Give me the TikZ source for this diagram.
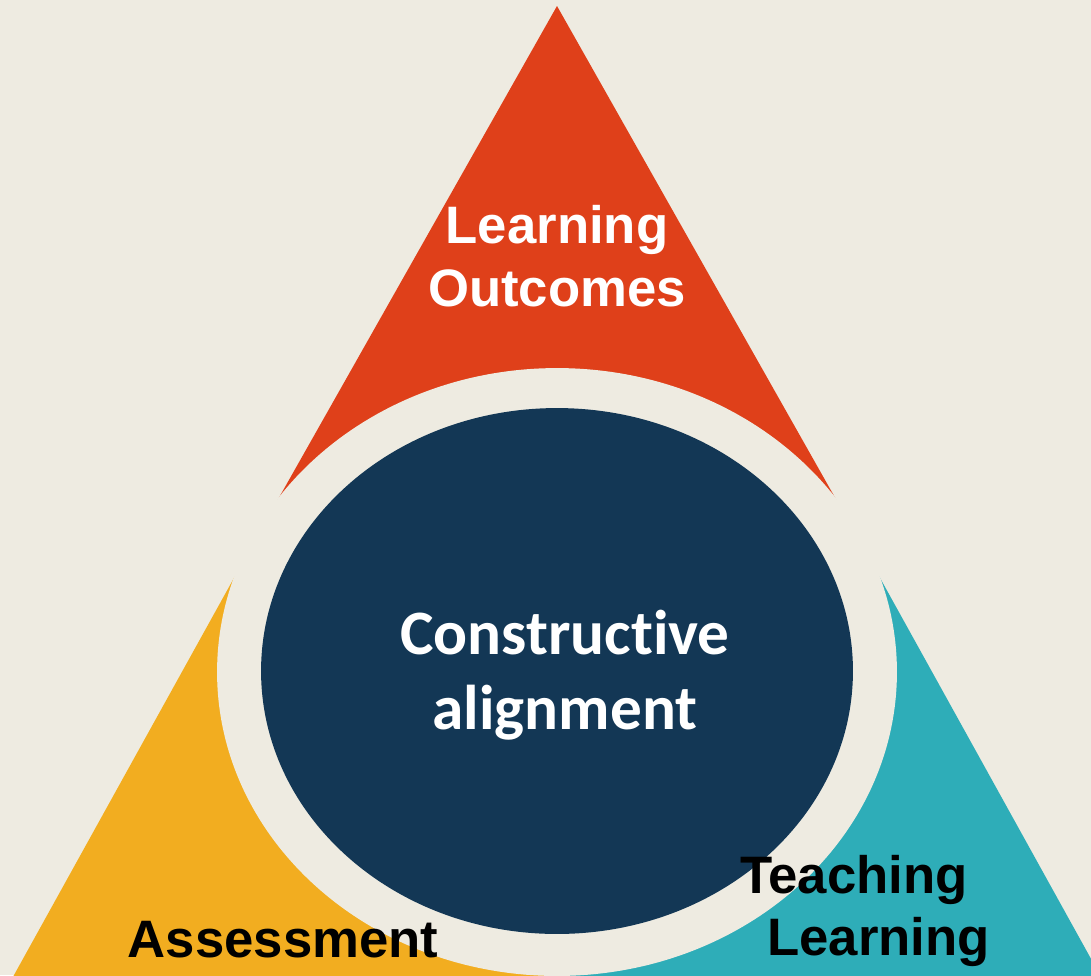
\documentclass[tikz,border=0pt]{standalone}
\usepackage{fontspec}
\newfontfamily\headfont{Liberation Sans}
\newfontfamily\corefont{Carlito}[Ligatures=NoCommon]
\usetikzlibrary{shapes.geometric}

\definecolor{paper}{HTML}{EEEBE1}
\definecolor{outcomered}{HTML}{DF401A}
\definecolor{assessyellow}{HTML}{F2AD20}
\definecolor{teachteal}{HTML}{2EADB8}
\definecolor{corenavy}{HTML}{133755}

\begin{document}
\begin{tikzpicture}[x=0.02cm, y=-0.02cm]

    \fill[paper] (0,0) rectangle (1091,975);
    \useasboundingbox (0,0) rectangle (1091,975);

    \begin{scope}
    \clip (0,0) rectangle (1091,975);

    \coordinate (apex) at (557,6);
    \coordinate (cutl) at (255,540);
    \coordinate (cutr) at (859,540);
    \coordinate (mid) at (557,540);
    \coordinate (basel) at (-58,1105);
    \coordinate (baser) at (1172,1105);
    \coordinate (basem) at (557,1105);

    \fill[outcomered] (apex) -- (cutr) -- (cutl) -- cycle;
    \fill[assessyellow] (cutl) -- (mid) -- (basem) -- (basel) -- cycle;
    \fill[teachteal] (mid) -- (cutr) -- (baser) -- (basem) -- cycle;

    \node[ellipse,
    fill = paper,
    inner sep = 0pt,
    minimum width = 13.6cm,
    minimum height = 12.16cm] (gap) at (557,672) {};

    \node[ellipse,
    fill = corenavy,
    inner sep = 0pt,
    minimum width = 11.84cm,
    minimum height = 10.52cm] (core) at (557,671) {};
    \end{scope}

    \node[align=center, text=white, inner sep=0pt,
    font=\headfont\bfseries\fontsize{30}{36}\selectfont]
    (outcomes) at (557,256) {Learning\\Outcomes};

    \node[align=center, text=white, inner sep=0pt,
    font=\corefont\bfseries\fontsize{36}{43}\selectfont]
    (alignment) at (565,675) {Constructive\\alignment};

    \node[anchor=base, inner sep=0pt,
    font=\headfont\bfseries\fontsize{30}{36}\selectfont]
    (assessment) at (283,957) {Assessment};

    \node[anchor=north west, align=left, inner sep=0pt,
    font=\headfont\bfseries\fontsize{30}{35}\selectfont]
    (teaching) at (740,855) {Teaching\\\hspace*{0.54cm}Learning};

\end{tikzpicture}
\end{document}
